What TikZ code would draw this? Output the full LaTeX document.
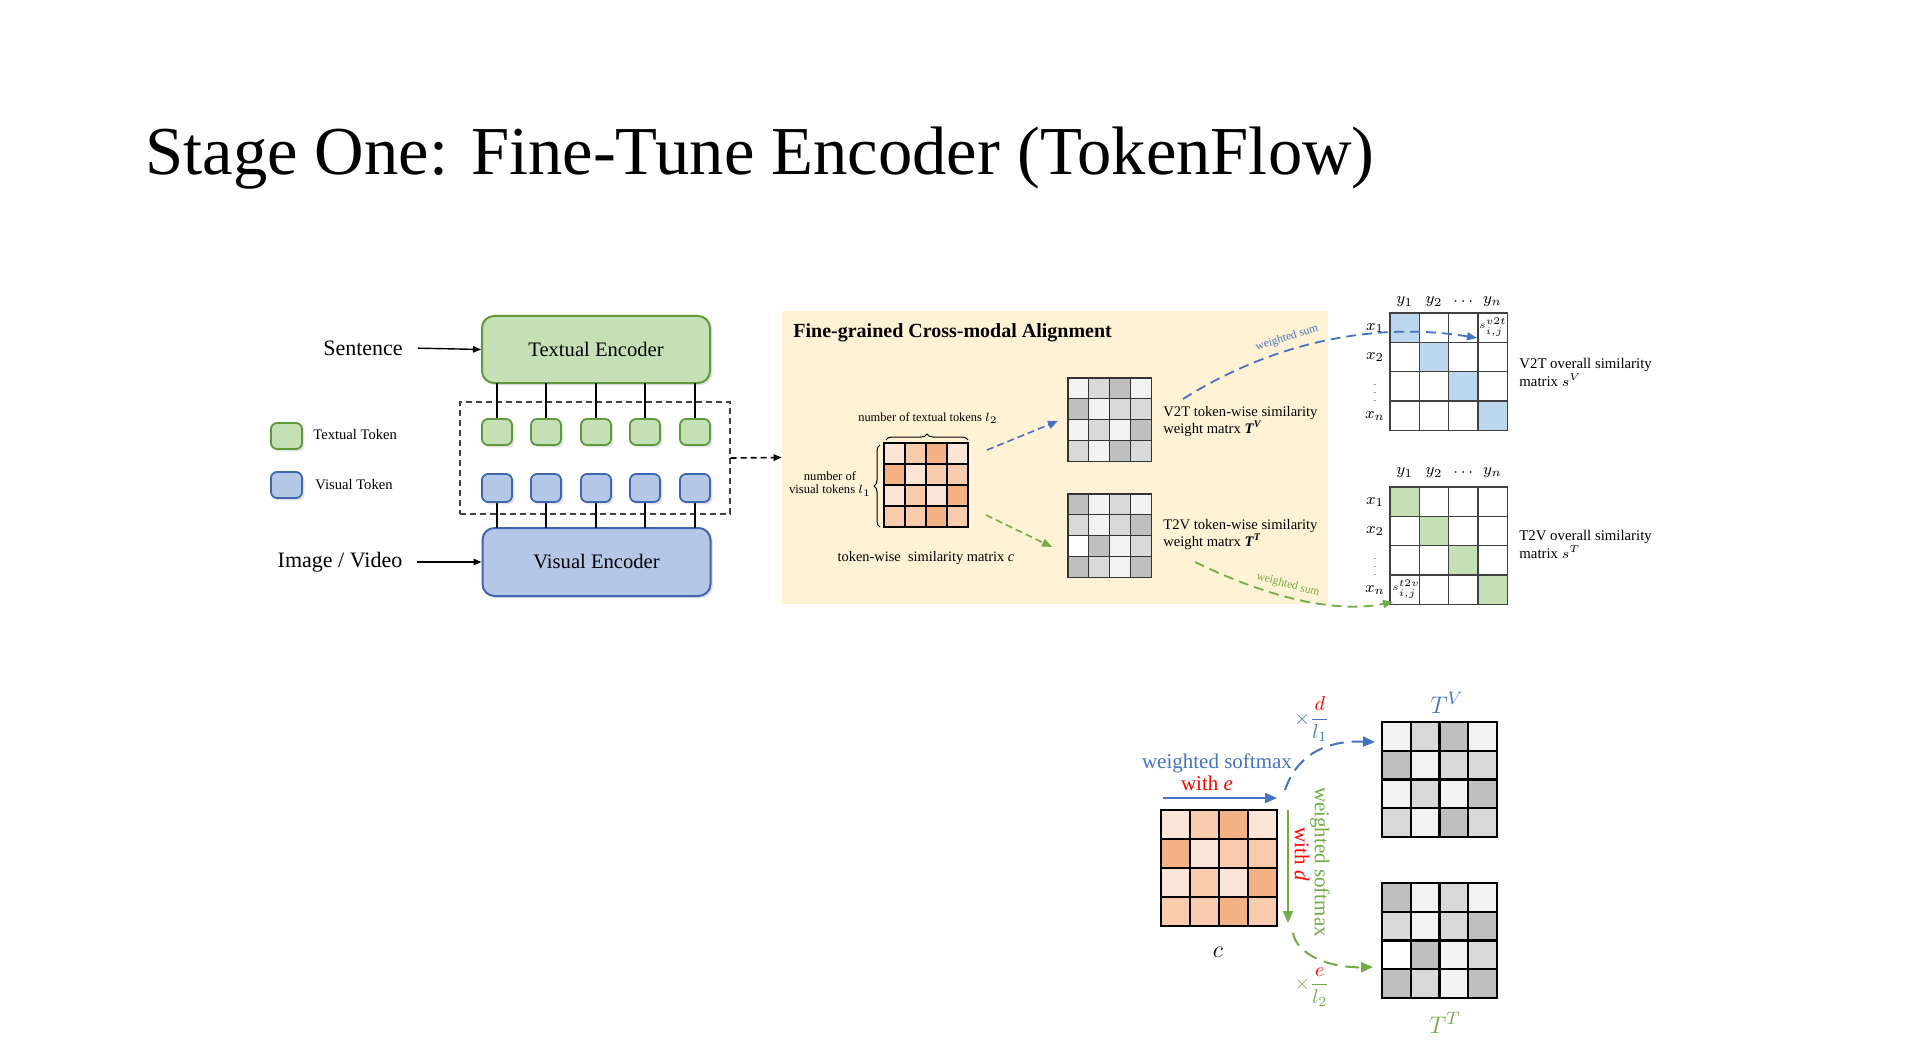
\documentclass[tikz,border=0pt]{standalone}
\usepackage{fontspec}
\setmainfont{Liberation Serif}
\usetikzlibrary{arrows.meta,decorations.pathreplacing,shadows,calc}
\definecolor{gfill}{HTML}{C5E0B4}
\definecolor{gline}{HTML}{5E9A3A}
\definecolor{bfill}{HTML}{B4C7E7}
\definecolor{bline}{HTML}{3F66B0}
\definecolor{panelbg}{HTML}{FFF2D5}
\definecolor{o1}{HTML}{FBE5D6}
\definecolor{o2}{HTML}{F8CBAD}
\definecolor{o3}{HTML}{F4B183}
\definecolor{g0}{HTML}{FFFFFF}
\definecolor{g1}{HTML}{F2F2F2}
\definecolor{g2}{HTML}{D9D9D9}
\definecolor{g3}{HTML}{BFBFBF}
\definecolor{sb}{HTML}{BDD7EE}
\definecolor{sg}{HTML}{C5E0B4}
\definecolor{ablue}{HTML}{4472C4}
\definecolor{agreen}{HTML}{70AD47}
\definecolor{ared}{HTML}{FF0000}
\newcommand\fsz[2]{\fontsize{#1}{#2}\selectfont}
% #1 name, #2 x, #3 y (top-left, px), #4 cell (px), #5 colours, #6 line width, #7 line colour
\newcommand\cellmat[7]{%
  \foreach \cellc [count=\i from 0] in {#5}{%
    \pgfmathtruncatemacro\mrow{\i/4}%
    \pgfmathtruncatemacro\mcol{\i-4*\mrow}%
    \fill[\cellc] ({#2+\mcol*#4},{#3+\mrow*#4}) rectangle ++(#4,#4);}
  \foreach \k in {1,2,3}{%
    \draw[line width=#6,#7] ({#2+\k*#4},#3) -- ++(0,4*#4);
    \draw[line width=#6,#7] (#2,{#3+\k*#4}) -- ++(4*#4,0);}
  \draw[line width=#6,#7] (#2,#3) rectangle ++(4*#4,4*#4);
  \node[inner sep=0pt, minimum width={2*#4*1pt}, minimum height={2*#4*1pt}, anchor=north west] (#1) at (#2,#3) {};
}
\begin{document}
\begin{tikzpicture}[x=0.5pt,y=-0.5pt,
  shd/.style={drop shadow={shadow xshift=1.2pt,shadow yshift=-1.2pt,opacity=0.22}},
  enc/.style={draw, rounded corners=6pt, line width=1pt, minimum width=114pt, minimum height=33.5pt, font=\fsz{10.3}{12}, shd},
  tok/.style={draw, rounded corners=3pt, line width=0.9pt, minimum width=15pt, inner sep=0pt, shd},
  tip/.style={-{Triangle[length=4pt,width=3.2pt]}},
  ptip/.style={-{Triangle[length=5pt,width=4pt]}},
  btip/.style={-{Triangle[length=6pt,width=5pt]}},
  ptxt/.style={font=\fsz{7.3}{8.5}, align=left, anchor=west, inner sep=0pt},
  lab/.style={font=\fsz{8}{9}, inner sep=0pt},
]
\useasboundingbox[fill=white] (0,0) rectangle (1906,1064);

% title
\node[anchor=base west, font=\fsz{34.3}{40}, inner sep=0pt] (title) at (145,175) {Stage One: Fine-Tune Encoder (TokenFlow)};

% ---------- left part ----------
\node[font=\fsz{11}{13}] (sent) at (363,348) {Sentence};
\node[font=\fsz{11}{13}] (img) at (340,562) {Image / Video};
\node[enc, fill=gfill, draw=gline] (tenc) at (596,349.5) {Textual Encoder};
\node[enc, fill=bfill, draw=bline, minimum height=34pt] (venc) at (596.5,562) {Visual Encoder};
\draw[tip, line width=0.7pt, shorten <=4pt] (sent.east) -- (tenc.west);
\draw[tip, line width=0.7pt, shorten <=4pt] (img.east) -- (img.east -| venc.west);

\node[draw=black!75, dash pattern=on 3pt off 2pt, line width=0.6pt, minimum width=135pt, minimum height=56pt] (tokbox) at (595,458) {};
\foreach \i/\x in {1/497,2/546,3/596,4/645,5/695}{
  \draw[line width=0.7pt] (\x,419) -- (\x,382.7);
  \draw[line width=0.7pt] (\x,502) -- (\x,528);
  \node[tok, fill=gfill, draw=gline, minimum height=13pt] (t\i) at (\x,432) {};
  \node[tok, fill=bfill, draw=bline, minimum height=14pt] (v\i) at (\x,488) {};
}
% legend
\node[tok, fill=gfill, draw=gline, minimum height=13pt, minimum width=15.5pt] (lgt) at (286.5,436) {};
\node[tok, fill=bfill, draw=bline, minimum height=13pt, minimum width=15.5pt] (lgv) at (286.5,485) {};
\node[anchor=west, font=\fsz{7.3}{8.5}, inner sep=0pt] (lgtt) at (313,435) {Textual Token};
\node[anchor=west, font=\fsz{7.3}{8.5}, inner sep=0pt] (lgvt) at (315,485) {Visual Token};

% ---------- panel ----------
\node[fill=panelbg, minimum width=273pt, minimum height=146.5pt, inner sep=0pt] (panel) at (1055,457.5) {};
\draw[tip, line width=0.8pt, dash pattern=on 3pt off 2pt] (tokbox.east) -- (panel.west);
\node[anchor=west, font=\bfseries\fsz{10}{12}, inner sep=0pt] (ptitle) at (793,333) {Fine-grained Cross-modal Alignment};

\cellmat{cm}{884}{443}{21}{o1,o2,o3,o1,o3,o1,o2,o2,o1,o2,o1,o3,o2,o2,o3,o2}{0.6pt}{black}
\cellmat{tv}{1068}{378}{20.8}{g1,g2,g3,g1,g3,g1,g2,g2,g1,g2,g1,g3,g2,g1,g3,g2}{0.6pt}{black!80}
\cellmat{tt}{1068}{494}{20.8}{g3,g1,g2,g1,g2,g1,g2,g3,g0,g3,g1,g2,g3,g2,g1,g3}{0.6pt}{black!80}

\draw[decorate, decoration={brace, amplitude=3pt}, line width=0.5pt] (886,440) -- (968,440);
\draw[decorate, decoration={brace, amplitude=3pt}, line width=0.5pt] (880,527) -- (880,445);
\node[font=\fsz{6.2}{7.2}, inner sep=0pt] (ntt) at (928,418) {number of textual tokens $l_2$};
\node[font=\fsz{6.3}{6.6}, align=center, inner sep=0pt] (nvt) at (830,484) {number of\\visual tokens $l_1$};
\node[font=\fsz{7.2}{8.5}, inner sep=0pt] (cmlab) at (926,558) {token-wise\ \ similarity matrix \textit{c}};

\node[ptxt] (tvlab) at (1163,421.5) {V2T token-wise similarity\\weight matrx \textbf{\textit{T}}\textsuperscript{\textbf{\textit{V}}}};
\node[ptxt] (ttlab) at (1163,534.5) {T2V token-wise similarity\\weight matrx \textbf{\textit{T}}\textsuperscript{\textbf{\textit{T}}}};

\coordinate (a1s) at (987,450);
\coordinate (a2s) at (986,515);
\draw[ablue, line width=0.8pt, dash pattern=on 3.5pt off 2pt, ptip] (a1s) -- ($(tv.west)+(-10,1)$);
\draw[agreen, line width=0.8pt, dash pattern=on 3.5pt off 2pt, ptip] (a2s) -- ($(tt.west)+(-16,11)$);

% ---------- overall similarity matrices ----------
\cellmat{sv}{1390}{313}{29.3}{sb,g0,g0,g0,g0,sb,g0,g0,g0,g0,sb,g0,g0,g0,g0,sb}{0.6pt}{black!75}
\cellmat{st}{1390}{487}{29.3}{sg,g0,g0,g0,g0,sg,g0,g0,g0,g0,sg,g0,g0,g0,g0,sg}{0.6pt}{black!75}
\foreach \lab [count=\k from 0] in {$y_1$,$y_2$,$\cdots$,$y_n$}{
  \node[lab] (svy\k) at ({1404.65+\k*29.3},302) {\lab};
  \node[lab] (sty\k) at ({1404.65+\k*29.3},473) {\lab};
}
\foreach \lab [count=\k from 0] in {$x_1$,$x_2$,{\fsz{4.5}{5}$\vdots$},$x_n$}{
  \node[lab] (svx\k) at (1375,{328+\k*29.3}) {\lab};
  \node[lab] (stx\k) at (1375,{502+\k*29.3}) {\lab};
}
\node[font=\fsz{5.2}{6}, inner sep=0pt] (sv2t) at (1493,327) {$s_{i,j}^{v2t}$};
\node[font=\fsz{5.2}{6}, inner sep=0pt] (st2v) at (1406,589) {$s_{i,j}^{t2v}$};
\node[ptxt, font=\fsz{7.4}{9}] (svlab) at (1519,372) {V2T overall similarity\\matrix $s^V$};
\node[ptxt, font=\fsz{7.4}{9}] (stlab) at (1519,544) {T2V overall similarity\\matrix $s^T$};

\coordinate (bcs) at (1183,399);
\coordinate (bce) at (1477,338);
\coordinate (gcs) at (1195,562);
\coordinate (gce) at (1393,602);
\draw[ablue, line width=0.9pt, dash pattern=on 5pt off 3pt, ptip] (bcs) .. controls (1283,336) and (1387,323) .. (bce);
\draw[agreen, line width=0.9pt, dash pattern=on 5pt off 3pt, ptip] (gcs) .. controls (1265,596) and (1333,614) .. (gce);
\node[rotate=17, text=ablue, font=\fsz{5.8}{7}, inner sep=0pt] (ws1) at (1287,338) {weighted sum};
\node[rotate=-15, text=agreen, font=\fsz{5.8}{7}, inner sep=0pt] (ws2) at (1288,585) {weighted sum};

% ---------- bottom figure ----------
\cellmat{c2}{1161}{810}{29}{o1,o2,o3,o1,o3,o1,o2,o2,o1,o2,o1,o3,o2,o2,o3,o2}{1.1pt}{black}
\cellmat{tv2}{1382}{722}{28.75}{g1,g2,g3,g1,g3,g1,g2,g2,g1,g2,g1,g3,g2,g1,g3,g2}{1.1pt}{black}
\cellmat{tt2}{1382}{883}{28.75}{g3,g1,g2,g1,g2,g1,g2,g3,g0,g3,g1,g2,g3,g2,g1,g3}{1.1pt}{black}
\node[font=\fsz{12}{14}] (c2lab) at (1218,952) {$c$};
\node[text=ablue, font=\fsz{13}{15}] (tv2lab) at (1447,703) {$T^V$};
\node[text=agreen, font=\fsz{13}{15}] (tt2lab) at (1445,1023) {$T^T$};

\coordinate (hs) at (1163,798);
\coordinate (he) at (1277,798);
\coordinate (vs) at (1288,810);
\coordinate (ve) at (1288,923);
\draw[ablue, line width=1pt, btip] (hs) -- (he);
\draw[agreen, line width=1pt, btip] (vs) -- (ve);
\node[text=ablue, font=\fsz{10.5}{12}, inner sep=0pt] (wsb) at (1217,763) {weighted softmax};
\node[text=ared, font=\fsz{10.5}{12}, inner sep=0pt] (wse) at (1207,783) {with \textit{e}};
\node[rotate=-90, text=agreen, font=\fsz{10.5}{12}, inner sep=0pt] (wsg) at (1320,862) {weighted softmax};
\node[rotate=-90, text=ared, font=\fsz{10.5}{12}, inner sep=0pt] (wsd) at (1302,854) {with \textit{d}};

\coordinate (bds) at (1285,790);
\coordinate (bde) at (1375,742);
\coordinate (gds) at (1293,933);
\coordinate (gde) at (1373,967);
\draw[ablue, line width=1pt, dash pattern=on 7pt off 4pt, btip] (bds) .. controls (1295,760) and (1320,740) .. (bde);
\draw[agreen, line width=1pt, dash pattern=on 7pt off 4pt, btip] (gds) .. controls (1297,955) and (1330,968) .. (gde);
\node[text=ablue, font=\fsz{10}{12}, inner sep=0pt] (fr1) at (1312,719) {$\times\displaystyle\frac{\textcolor{ared}{d}}{l_1}$};
\node[text=agreen, font=\fsz{10}{12}, inner sep=0pt] (fr2) at (1312,987) {$\times\displaystyle\frac{\textcolor{ared}{e}}{l_2}$};
\end{tikzpicture}
\end{document}
